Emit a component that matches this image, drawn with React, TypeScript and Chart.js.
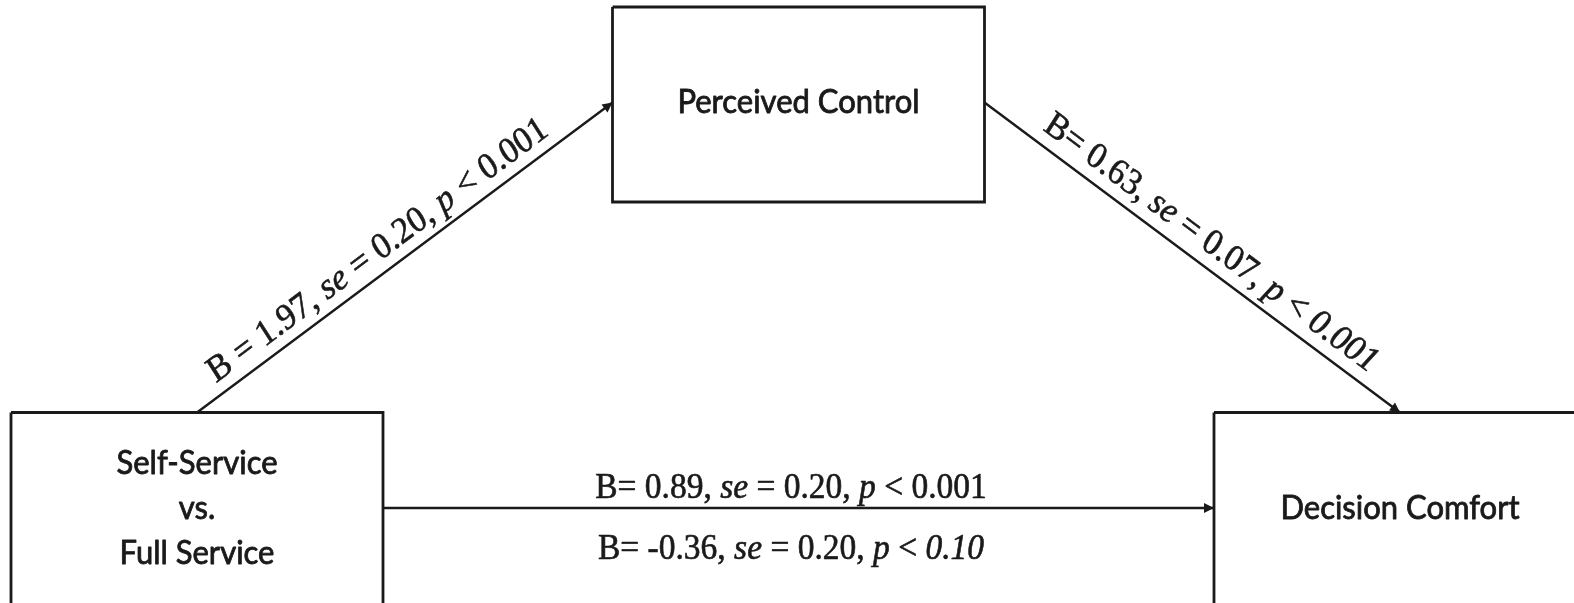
import React, { useEffect, useRef } from "react";
import { Chart, registerables } from "chart.js";
Chart.register(...registerables);

// ---- data ----
const nodeLines = [["Self-Service", "vs.", "Full Service"], ["Perceived Control"], ["Decision Comfort"]];
const arrowFrom = [0, 1, 0];
const arrowTo = [1, 2, 2];
const labelArrow = [0, 1, 2, 2];
const labelB = ["1.97", "0.63", "0.89", "-0.36"];
const labelSE = ["0.20", "0.07", "0.20", "0.20"];
const labelP = ["0.001", "0.001", "0.001", "0.10"];
const labelPItalic = [false, true, false, true];
const labelEqSpace = [true, false, false, false];

// ---- layout ----
const W = 1574;
const H = 603;
const nodeCX = [197, 798.5, 1400];
const nodeCY = [508, 102.5, 508];
const boxW = 372;
const boxH = 191;
const fromSide = ["top", "right", "right"];
const toSide = ["left", "top", "left"];
const labelT = [0.465, 0.514, 0.491, 0.491];
const labelOff = [12, 13, 10, -51];
const labelFont = [34, 34, 33.5, 33.5];
const nodeFont = 31;
const nodeLineGap = 45;
const stretch = 1.08;
const ink = "#1a1a1a";

function anchor(i: number, side: string) {
  const cx = nodeCX[i], cy = nodeCY[i];
  if (side === "top") return { x: cx, y: cy - boxH / 2 };
  if (side === "left") return { x: cx - boxW / 2, y: cy };
  if (side === "right") return { x: cx + boxW / 2, y: cy };
  return { x: cx, y: cy + boxH / 2 };
}

function boxData(i: number) {
  const l = nodeCX[i] - boxW / 2, r = nodeCX[i] + boxW / 2;
  const t = nodeCY[i] - boxH / 2, b = nodeCY[i] + boxH / 2 + 4;
  return [
    { x: l, y: t }, { x: r, y: t }, { x: r, y: b }, { x: l, y: b }, { x: l, y: t },
  ];
}

function labelSegments(k: number): [string, boolean][] {
  const eq = labelEqSpace[k] ? "B = " : "B= ";
  return [
    [eq + labelB[k] + ", ", false],
    ["se", true],
    [" = " + labelSE[k] + ", ", false],
    ["p", true],
    [" < ", false],
    [labelP[k], labelPItalic[k]],
  ];
}

export default function App() {
  const ref = useRef<HTMLCanvasElement | null>(null);
  useEffect(() => {
    const canvas = ref.current!;
    const datasets: any[] = [];
    for (let i = 0; i < nodeLines.length; i++) {
      datasets.push({
        data: boxData(i),
        showLine: true,
        borderColor: ink,
        borderWidth: 2.8,
        pointRadius: 0,
        fill: false,
        tension: 0,
        borderJoinStyle: "miter",
      });
    }
    for (let a = 0; a < arrowFrom.length; a++) {
      const p = anchor(arrowFrom[a], fromSide[a]);
      const q = anchor(arrowTo[a], toSide[a]);
      datasets.push({
        data: [p, q],
        showLine: true,
        borderColor: ink,
        borderWidth: 2.4,
        pointRadius: 0,
        fill: false,
      });
    }

    const overlay = {
      id: "overlay",
      afterDatasetsDraw(chart: any) {
        const ctx = chart.ctx as CanvasRenderingContext2D;
        const xs = chart.scales.x, ys = chart.scales.y;
        const px = (v: number) => xs.getPixelForValue(v);
        const py = (v: number) => ys.getPixelForValue(v);
        ctx.save();
        // arrowheads
        for (let a = 0; a < arrowFrom.length; a++) {
          const p = anchor(arrowFrom[a], fromSide[a]);
          const q = anchor(arrowTo[a], toSide[a]);
          const x1 = px(p.x), y1 = py(p.y), x2 = px(q.x), y2 = py(q.y);
          const ang = Math.atan2(y2 - y1, x2 - x1);
          const L = 10, Wd = 5;
          ctx.fillStyle = ink;
          ctx.beginPath();
          ctx.moveTo(x2, y2);
          ctx.lineTo(x2 - L * Math.cos(ang) + Wd * Math.sin(ang), y2 - L * Math.sin(ang) - Wd * Math.cos(ang));
          ctx.lineTo(x2 - L * Math.cos(ang) - Wd * Math.sin(ang), y2 - L * Math.sin(ang) + Wd * Math.cos(ang));
          ctx.closePath();
          ctx.fill();
        }
        // node labels
        ctx.fillStyle = ink;
        ctx.strokeStyle = ink;
        ctx.lineJoin = "round";
        ctx.textAlign = "center";
        ctx.textBaseline = "middle";
        ctx.font = `${nodeFont}px Lato, "Open Sans", sans-serif`;
        for (let i = 0; i < nodeLines.length; i++) {
          const lines = nodeLines[i];
          const n = lines.length;
          for (let j = 0; j < n; j++) {
            const cy = nodeCY[i] + (j - (n - 1) / 2) * nodeLineGap;
            ctx.save();
            ctx.translate(px(nodeCX[i]), py(cy));
            ctx.scale(1, stretch);
            ctx.lineWidth = 0.8;
            ctx.fillText(lines[j], 0, 0);
            ctx.strokeText(lines[j], 0, 0);
            ctx.restore();
          }
        }
        // path labels
        ctx.textAlign = "left";
        ctx.textBaseline = "alphabetic";
        for (let k = 0; k < labelArrow.length; k++) {
          const a = labelArrow[k];
          const p = anchor(arrowFrom[a], fromSide[a]);
          const q = anchor(arrowTo[a], toSide[a]);
          const x1 = px(p.x), y1 = py(p.y), x2 = px(q.x), y2 = py(q.y);
          const len = Math.hypot(x2 - x1, y2 - y1);
          const ux = (x2 - x1) / len, uy = (y2 - y1) / len;
          const nx = uy, ny = -ux;
          const t = labelT[k];
          const bx = x1 + (x2 - x1) * t + nx * labelOff[k];
          const by = y1 + (y2 - y1) * t + ny * labelOff[k];
          const fs = labelFont[k];
          const segs = labelSegments(k);
          const fontOf = (it: boolean) => `${it ? "italic " : ""}${fs}px "Liberation Serif", "Times New Roman", serif`;
          let total = 0;
          for (const [s, it] of segs) {
            ctx.font = fontOf(it);
            total += ctx.measureText(s).width;
          }
          const angle = Math.atan2((y2 - y1) / stretch, x2 - x1);
          ctx.save();
          ctx.translate(bx, by);
          ctx.scale(1, stretch);
          ctx.rotate(angle);
          ctx.lineWidth = 0.6;
          let cx = -total / 2;
          for (const [s, it] of segs) {
            ctx.font = fontOf(it);
            ctx.fillText(s, cx, 0);
            ctx.strokeText(s, cx, 0);
            cx += ctx.measureText(s).width;
          }
          ctx.restore();
        }
        ctx.restore();
      },
    };

    const chart = new Chart(canvas, {
      type: "scatter",
      data: { datasets },
      options: {
        animation: false,
        responsive: false,
        maintainAspectRatio: false,
        layout: { padding: 0 },
        plugins: { legend: { display: false }, tooltip: { enabled: false } },
        scales: {
          x: { type: "linear", min: 0, max: W, display: false },
          y: { type: "linear", min: 0, max: H, reverse: true, display: false },
        },
      },
      plugins: [overlay],
    });
    return () => chart.destroy();
  }, []);

  return (
    <div style={{ position: "fixed", left: 0, top: 0, width: W, height: H, background: "#fff" }}>
      <canvas ref={ref} width={W} height={H} style={{ display: "block", width: W, height: H }} />
    </div>
  );
}
